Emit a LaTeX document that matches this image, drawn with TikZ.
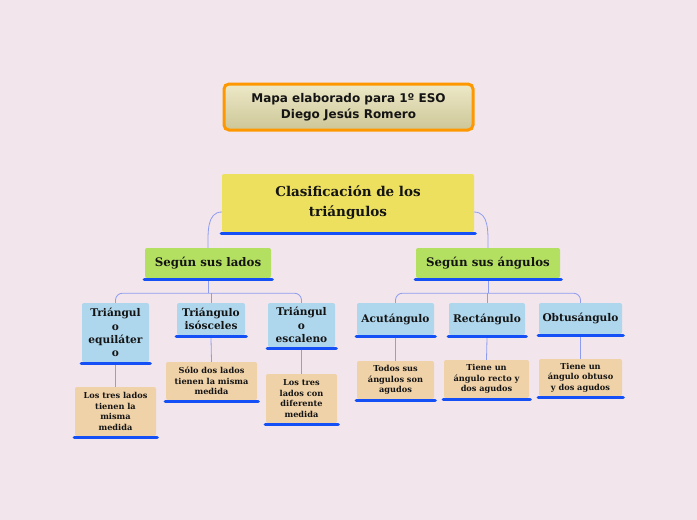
\documentclass[tikz,border=0pt]{standalone}
\usepackage{fontspec}
\newfontfamily\slab{DejaVu Serif}
\newfontfamily\verd{DejaVu Sans}
\usetikzlibrary{calc}
\definecolor{bg}{RGB}{242,230,236}
\definecolor{orangeb}{RGB}{255,152,0}
\definecolor{ttop}{RGB}{237,233,199}
\definecolor{tbot}{RGB}{205,198,152}
\definecolor{mainy}{RGB}{237,224,94}
\definecolor{greenb}{RGB}{180,224,98}
\definecolor{blueb}{RGB}{174,214,236}
\definecolor{descb}{RGB}{240,210,168}
\definecolor{uline}{RGB}{20,80,245}
\definecolor{conn}{RGB}{142,156,240}
\definecolor{txt}{RGB}{20,20,20}
\tikzset{
  box/.style={rounded corners=2pt, inner sep=0pt, align=center, text=txt},
  titlebox/.style={box, draw=orangeb, line width=3pt, rounded corners=5pt, top color=ttop, bottom color=tbot, font=\verd\bfseries\fontsize{12}{15.5}\selectfont},
  mainbox/.style={box, fill=mainy, font=\slab\bfseries\fontsize{13.5}{20}\selectfont},
  secbox/.style={box, fill=greenb, font=\slab\bfseries\fontsize{11.8}{14}\selectfont},
  typebox/.style={box, fill=blueb, font=\slab\bfseries\fontsize{10.6}{13.3}\selectfont},
  descbox/.style={box, fill=descb, font=\slab\bfseries\fontsize{8.2}{10.6}\selectfont},
  ul/.style={draw=uline, line width=3.5pt, line cap=round},
  link/.style={draw=conn, line width=0.8pt}
}
\begin{document}
\begin{tikzpicture}[x=1pt,y=-1pt]
\fill[bg] (0,0) rectangle (697,520);
\useasboundingbox (0,0) rectangle (697,520);

\node[titlebox, minimum width=249pt, minimum height=46pt] (title) at (348.5,107) {Mapa elaborado para 1º ESO\\Diego Jesús Romero};

\node[mainbox, minimum width=252pt, minimum height=58pt] (main) at (348,203) {Clasificación de los\\triángulos};

\node[secbox, minimum width=126pt, minimum height=30pt] (sl) at (208,263) {Según sus lados};
\node[secbox, minimum width=144pt, minimum height=30pt] (sa) at (488,263) {Según sus ángulos};

\node[typebox, minimum width=67pt, minimum height=59pt] (eq) at (115.5,332.5) {Triángul\\o\\equiláter\\o};
\node[typebox, minimum width=68pt, minimum height=32pt] (is) at (211,319) {Triángulo\\isósceles};
\node[typebox, minimum width=67pt, minimum height=44pt] (es) at (301.5,325) {Triángul\\o\\escaleno};
\node[typebox, minimum width=77pt, minimum height=32pt] (ac) at (395.5,319) {Acutángulo};
\node[typebox, minimum width=76pt, minimum height=32pt] (re) at (487,319) {Rectángulo};
\node[typebox, minimum width=83pt, minimum height=31pt] (ob) at (580.5,318.5) {Obtusángulo};

\node[descbox, minimum width=81pt, minimum height=49pt] (d1) at (115.5,411.5) {Los tres lados\\tienen la\\misma\\medida};
\node[descbox, minimum width=91pt, minimum height=38pt] (d2) at (211.5,381) {Sólo dos lados\\tienen la misma\\medida};
\node[descbox, minimum width=71pt, minimum height=49pt] (d3) at (301.5,398.5) {Los tres\\lados con\\diferente\\medida};
\node[descbox, minimum width=77pt, minimum height=38pt] (d4) at (395.5,380) {Todos sus\\ángulos son\\agudos};
\node[descbox, minimum width=85pt, minimum height=38pt] (d5) at (486.5,379) {Tiene un\\ángulo recto y\\dos agudos};
\node[descbox, minimum width=83pt, minimum height=37pt] (d6) at (580.5,377.5) {Tiene un\\ángulo obtuso\\y dos agudos};

% underlines
\foreach \n in {main,sl,sa,eq,is,es,ac,re,ob,d1,d2,d3,d4,d5,d6}{
  \draw[ul] ([xshift=-0.5pt,yshift=-1.5pt]\n.south west) -- ([xshift=1pt,yshift=-1.5pt]\n.south east);
}

% connectors
\draw[link] ([yshift=-9pt]main.west) to[out=180,in=90] (sl.north);
\draw[link] ([yshift=-9pt]main.east) to[out=0,in=90] (sa.north);

\coordinate (lj) at ($(sl.south)+(0,15)$);
\coordinate (rj) at ($(sa.south)+(0,15)$);
\draw[link] ([yshift=-3pt]sl.south) -- (lj);
\draw[link] ([yshift=-3pt]sa.south) -- (rj);
\draw[link, rounded corners=7pt] (lj) -| (eq.north);
\draw[link, rounded corners=7pt] (lj) -| (es.north);
\draw[link] (lj -| is.north) -- (is.north);
\draw[link, rounded corners=7pt] (rj) -| (ac.north);
\draw[link, rounded corners=7pt] (rj) -| (ob.north);
\draw[link] (rj -| re.north) -- (re.north);

\draw[link] ([yshift=-3pt]eq.south) -- (d1.north);
\draw[link] ([yshift=-3pt]is.south) -- (d2.north);
\draw[link] ([yshift=-3pt]es.south) -- (d3.north);
\draw[link] ([yshift=-3pt]ac.south) -- (d4.north);
\draw[link] ([yshift=-3pt]re.south) -- (d5.north);
\draw[link] ([yshift=-3pt]ob.south) -- (d6.north);
\end{tikzpicture}
\end{document}
